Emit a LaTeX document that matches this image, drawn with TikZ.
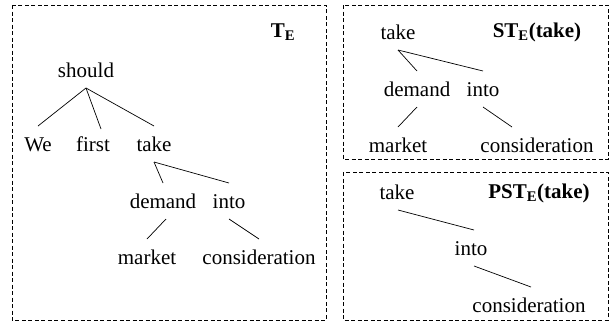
\documentclass[tikz,border=0pt]{standalone}
\usepackage{fontspec}
\setmainfont{Liberation Serif}
\begin{document}
\begin{tikzpicture}[x=1pt,y=-1pt,
  frame/.style={draw, line width=0.7pt, dash pattern=on 4pt off 2.5pt},
  word/.style={font=\fontsize{21}{24}\selectfont, inner sep=0pt, outer sep=11pt, text height=14pt, text depth=0pt},
  title/.style={font=\fontsize{21}{24}\selectfont\bfseries, inner sep=0pt},
  edge/.style={line width=0.7pt}]
\useasboundingbox (0,0) rectangle (611,322);
% frames
\draw[frame] (12,5) rectangle (326,320);
\draw[frame] (343,5) rectangle (608,159);
\draw[frame] (343,172) rectangle (608,320);
% titles
\node[title] (tE) at (283,32) {T\textsubscript{E}};
\node[title] (stE) at (537,32) {ST\textsubscript{E}(take)};
\node[title] (pstE) at (539,193) {PST\textsubscript{E}(take)};
% left tree
\node[word] (should) at (86,70) {should};
\node[word] (we) at (38,144) {We};
\node[word] (first) at (93,144) {first};
\node[word] (take) at (154,144) {take};
\node[word] (demand) at (163,201) {demand};
\node[word] (into) at (229,201) {into};
\node[word] (market) at (147,257) {market};
\node[word] (cons) at (259,257) {consideration};
\draw[edge] (should.south) -- (we.north);
\draw[edge] (should.south) -- ([xshift=8pt,yshift=-3pt]first.north);
\draw[edge] (should.south) -- (take.north);
\draw[edge] (take.south) -- (demand.north);
\draw[edge] (take.south) -- (into.north);
\draw[edge] ([xshift=3pt]demand.south) -- (market.north);
\draw[edge] (into.south) -- (cons.north);
% subtree
\node[word] (s-take) at (398,32) {take};
\node[word] (s-demand) at (417,89) {demand};
\node[word] (s-into) at (483,89) {into};
\node[word] (s-market) at (398,145) {market};
\node[word] (s-cons) at (537,145) {consideration};
\draw[edge] (s-take.south) -- (s-demand.north);
\draw[edge] (s-take.south) -- (s-into.north);
\draw[edge] (s-demand.south) -- (s-market.north);
\draw[edge] (s-into.south) -- ([xshift=-25pt]s-cons.north);
% partial subtree
\node[word] (p-take) at (397,192) {take};
\node[word] (p-into) at (471,248) {into};
\node[word] (p-cons) at (529,305) {consideration};
\draw[edge] ([xshift=1pt]p-take.south) -- ([xshift=3pt]p-into.north);
\draw[edge] ([xshift=3pt]p-into.south) -- ([xshift=2pt]p-cons.north);
\end{tikzpicture}
\end{document}
